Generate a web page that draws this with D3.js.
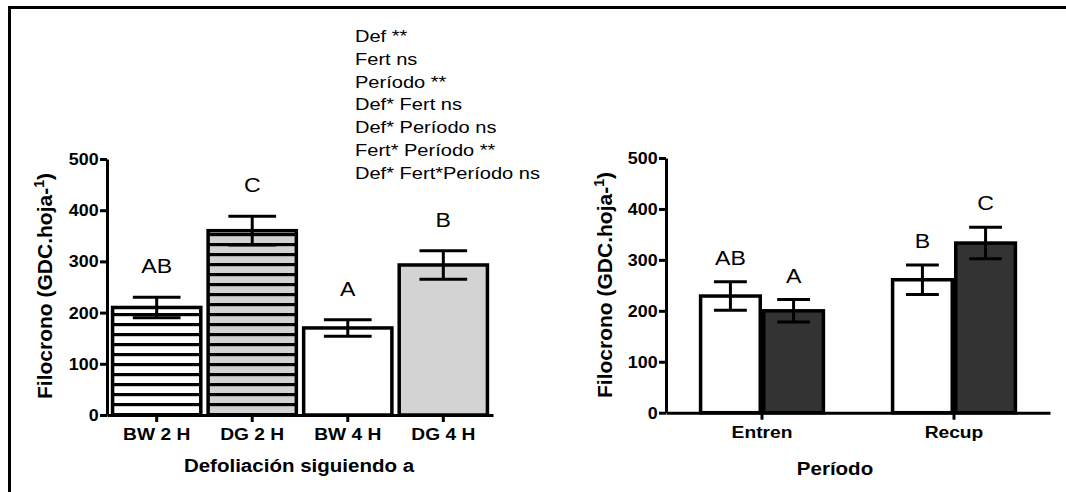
<!DOCTYPE html>
<html>
<head>
<meta charset="utf-8">
<script src="https://cdn.jsdelivr.net/npm/d3@7"></script>
<style>
  html, body { margin: 0; padding: 0; background: #fff; }
  svg { display: block; }
  text { font-family: "Liberation Sans", Arial, Helvetica, sans-serif; fill: #000; }
</style>
</head>
<body>
<svg id="chart" width="1066" height="492"></svg>
<script>
// Panel 1: filocrono por tipo de defoliación
const defCategories = ["BW 2 H", "DG 2 H", "BW 4 H", "DG 4 H"];
const defMeans = [210, 360, 170, 293];
const defErrors = [20, 28, 16, 28];
const defLetters = ["AB", "C", "A", "B"];

// Panel 2: filocrono por período (dos niveles de fertilización)
const periods = ["Entren", "Recup"];
const fertLevels = ["F0", "F1"];
const periodMeans = [[229, 200], [261, 333]];
const periodErrors = [[28, 22], [29, 31]];
const periodLetters = [["AB", "A"], ["B", "C"]];

const yTicks = [0, 100, 200, 300, 400, 500];
const anovaLines = [
  "Def **",
  "Fert ns",
  "Período **",
  "Def* Fert ns",
  "Def* Período ns",
  "Fert* Período **",
  "Def* Fert*Período ns"
];

const svg = d3.select("#chart");
const defs = svg.append("defs");

// horizontal stripe fills
function stripes(id, bg) {
  const p = defs.append("pattern")
    .attr("id", id)
    .attr("patternUnits", "userSpaceOnUse")
    .attr("width", 10).attr("height", 10)
    .attr("y", 3);
  p.append("rect").attr("width", 10).attr("height", 10).attr("fill", bg);
  p.append("rect").attr("y", 0).attr("width", 10).attr("height", 3.2).attr("fill", "#000");
}
stripes("stripeWhite", "#fff");
stripes("stripeGray", "#d3d3d3");
const defFills = ["url(#stripeWhite)", "url(#stripeGray)", "#fff", "#d3d3d3"];
const fertFills = ["#fff", "#333333"];

// frame (top and left edges)
svg.append("path")
  .attr("d", "M9.5,492 V7.5 H1066")
  .attr("fill", "none").attr("stroke", "#000").attr("stroke-width", 3);

const AXIS_W = 3;
const BAR_W = 3.5;

function styleAxis(size, sx) {
  return g => {
    g.select(".domain").attr("stroke-width", AXIS_W).attr("stroke", "#000");
    g.selectAll(".tick line").attr("stroke-width", AXIS_W).attr("stroke", "#000");
    g.selectAll(".tick text")
      .attr("fill", "#000")
      .attr("transform", `scale(${sx},1)`)
      .style("font-family", '"Liberation Sans", Arial, sans-serif')
      .style("font-weight", "bold")
      .style("font-size", size + "px");
  };
}

function yTitle(x, y) {
  const t = svg.append("text")
    .attr("transform", `translate(${x},${y}) rotate(-90)`)
    .attr("text-anchor", "middle")
    .style("font-weight", "bold")
    .style("font-size", "21px");
  t.append("tspan").text("Filocrono (GDC.hoja-");
  t.append("tspan").attr("dy", -8).style("font-size", "14px").text("1");
  t.append("tspan").attr("dy", 8).text(")");
}

function xTitle(x, y, label) {
  svg.append("text")
    .attr("transform", `translate(${x},${y}) scale(1.08,1)`)
    .attr("text-anchor", "middle")
    .style("font-weight", "bold").style("font-size", "19px")
    .text(label);
}

function errorBar(g, cx, yScale, mean, err, capHalf) {
  const yTop = yScale(mean + err), yBot = yScale(mean - err);
  g.append("line").attr("x1", cx).attr("x2", cx).attr("y1", yTop).attr("y2", yBot)
    .attr("stroke", "#000").attr("stroke-width", 3);
  [yTop, yBot].forEach(yy => g.append("line")
    .attr("x1", cx - capHalf).attr("x2", cx + capHalf).attr("y1", yy).attr("y2", yy)
    .attr("stroke", "#000").attr("stroke-width", 3));
}

function letter(g, cx, yy, label) {
  g.append("text")
    .attr("transform", `translate(${cx},${yy}) scale(1.1,1)`)
    .attr("text-anchor", "middle").style("font-size", "21px")
    .text(label);
}

// ---------- Panel 1 ----------
{
  const y = d3.scaleLinear().domain([0, 500]).range([415, 159]);
  const x = d3.scaleBand().domain(defCategories).range([107, 493]).padding(0.04);
  const g = svg.append("g");

  defCategories.forEach((c, i) => {
    const x0 = x(c), bw = x.bandwidth();
    g.append("rect")
      .attr("x", x0 + BAR_W / 2).attr("width", bw - BAR_W)
      .attr("y", y(defMeans[i])).attr("height", y(0) - y(defMeans[i]))
      .attr("fill", defFills[i]).attr("stroke", "#000").attr("stroke-width", BAR_W);
    const cx = x0 + bw / 2;
    errorBar(g, cx, y, defMeans[i], defErrors[i], bw * 0.26);
    letter(g, cx, y(defMeans[i] + defErrors[i]) - 24, defLetters[i]);
  });

  svg.append("g").attr("transform", "translate(0,415)")
    .call(d3.axisBottom(x).tickSize(7).tickSizeOuter(0).tickPadding(6))
    .call(styleAxis(17, 1.13));
  svg.append("g").attr("transform", "translate(107,0)")
    .call(d3.axisLeft(y).tickValues(yTicks).tickSize(7).tickSizeOuter(0).tickPadding(1))
    .call(styleAxis(17, 1.05));

  xTitle(299, 472, "Defoliación siguiendo a");
  yTitle(52, 286);

  // ANOVA summary
  const t = svg.append("text")
    .attr("transform", "translate(355,42) scale(1.18,1)")
    .style("font-size", "17px");
  anovaLines.forEach((l, i) => t.append("tspan").attr("x", 0).attr("dy", i ? 22.8 : 0).text(l));
}

// ---------- Panel 2 ----------
{
  const y = d3.scaleLinear().domain([0, 500]).range([412.7, 158]);
  const x0 = d3.scaleBand().domain(periods).range([666, 1050]);
  const x1 = d3.scaleBand().domain(fertLevels).range([0, x0.bandwidth()]).paddingOuter(0.52);
  const g = svg.append("g");

  periods.forEach((p, i) => {
    fertLevels.forEach((f, j) => {
      const bx = x0(p) + x1(f), bw = x1.bandwidth();
      const m = periodMeans[i][j], e = periodErrors[i][j];
      g.append("rect")
        .attr("x", bx + BAR_W / 2).attr("width", bw - BAR_W)
        .attr("y", y(m)).attr("height", y(0) - y(m))
        .attr("fill", fertFills[j]).attr("stroke", "#000").attr("stroke-width", BAR_W);
      const cx = bx + bw / 2;
      errorBar(g, cx, y, m, e, bw * 0.26);
      letter(g, cx, y(m + e) - 17, periodLetters[i][j]);
    });
  });

  svg.append("g").attr("transform", "translate(0,412.7)")
    .call(d3.axisBottom(x0).tickSize(7).tickSizeOuter(0).tickPadding(6))
    .call(styleAxis(17, 1.13));
  svg.append("g").attr("transform", "translate(666,0)")
    .call(d3.axisLeft(y).tickValues(yTicks).tickSize(7).tickSizeOuter(0).tickPadding(1))
    .call(styleAxis(17, 1.05));

  xTitle(835, 475, "Período");
  yTitle(612, 285);
}
</script>
</body>
</html>
